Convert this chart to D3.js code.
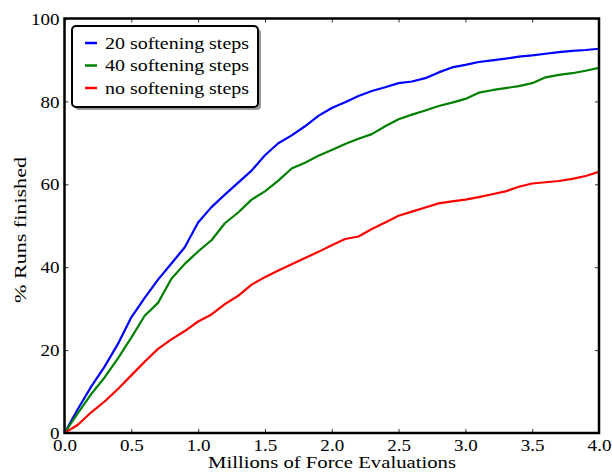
<!DOCTYPE html>
<html><head><meta charset="utf-8">
<script src="https://cdn.jsdelivr.net/npm/d3@7"></script>
<style>body{margin:0;background:#fff}svg{display:block}</style>
</head><body>
<svg id="c" width="612" height="472"></svg>
<script>
const xValues = d3.range(0, 41).map(i => i / 10);
const soft20 = [0,5.8,11.2,16.0,21.5,27.9,32.6,37.0,40.9,44.8,50.8,54.5,57.5,60.4,63.3,67.0,69.9,71.8,74.0,76.5,78.4,79.8,81.3,82.5,83.4,84.4,84.8,85.6,87.0,88.2,88.8,89.5,89.9,90.3,90.8,91.1,91.5,91.9,92.2,92.4,92.7];
const soft40 = [0,4.8,9.4,13.4,18.0,23.0,28.3,31.4,37.2,40.8,43.8,46.5,50.6,53.2,56.3,58.3,60.9,63.8,65.2,66.9,68.3,69.7,71.0,72.1,74.0,75.7,76.8,77.8,78.9,79.7,80.6,82.1,82.7,83.2,83.7,84.4,85.8,86.4,86.8,87.4,88.1];
const softNone = [0,2.0,5.0,7.6,10.6,13.9,17.2,20.3,22.6,24.6,26.9,28.6,31.1,33.1,35.8,37.6,39.2,40.7,42.2,43.7,45.3,46.8,47.4,49.2,50.8,52.4,53.4,54.4,55.4,55.9,56.3,56.9,57.6,58.3,59.4,60.2,60.5,60.8,61.3,62.0,63.0];
const seriesNames = ["20 softening steps","40 softening steps","no softening steps"];
const seriesColors = ["#0000ff","#008000","#ff0000"];
const xTicks = [0,0.5,1,1.5,2,2.5,3,3.5,4];
const yTicks = [0,20,40,60,80,100];
const xTitle = "Millions of Force Evaluations";
const yTitle = "% Runs finished";

const FONT = "Liberation Serif";
const FS = 17;
const L = 64.5, R = 599, T = 18.5, B = 433;
const svg = d3.select("#c");
const x = d3.scaleLinear().domain([0,4]).range([L,R]);
const y = d3.scaleLinear().domain([0,100]).range([B,T]);

const allSeries = [soft20, soft40, softNone];
const plot = svg.append("g");
svg.append("clipPath").attr("id","clp").append("rect")
  .attr("x",L).attr("y",T).attr("width",R-L).attr("height",B-T);
const line = d3.line().x((d,i)=>x(xValues[i])).y(d=>y(d));
allSeries.forEach((s,k)=>{
  plot.append("path").datum(s).attr("d",line).attr("fill","none")
    .attr("stroke",seriesColors[k]).attr("stroke-width",2.2)
    .attr("stroke-linejoin","round").attr("clip-path","url(#clp)");
});

const tf = d3.format(".1f");
const axB = svg.append("g").attr("transform",`translate(0,${B})`)
  .call(d3.axisBottom(x).tickValues(xTicks).tickSizeInner(-4).tickSizeOuter(0).tickPadding(7).tickFormat(tf));
const axT = svg.append("g").attr("transform",`translate(0,${T})`)
  .call(d3.axisTop(x).tickValues(xTicks).tickSizeInner(-4).tickSizeOuter(0).tickFormat(""));
const axL = svg.append("g").attr("transform",`translate(${L},0)`)
  .call(d3.axisLeft(y).tickValues(yTicks).tickSizeInner(-4).tickSizeOuter(0).tickPadding(5).tickFormat(d3.format("d")));
const axR = svg.append("g").attr("transform",`translate(${R},0)`)
  .call(d3.axisRight(y).tickValues(yTicks).tickSizeInner(-4).tickSizeOuter(0).tickFormat(""));
[axB,axT,axL,axR].forEach(a=>{
  a.attr("font-family",FONT).attr("font-size",FS);
  a.select(".domain").remove();
  a.selectAll(".tick line").attr("stroke","#333").attr("stroke-width",1);
  a.selectAll("text").attr("font-family",FONT).attr("font-size",FS).attr("fill","#000")
    .attr("transform","scale(1.12,1)");
});
axB.selectAll("text").attr("dy","0.62em");
axL.selectAll("text").attr("dy","0.33em").attr("x",-5/1.12);

svg.append("rect").attr("x",L).attr("y",T).attr("width",R-L).attr("height",B-T)
  .attr("fill","none").attr("stroke","#000").attr("stroke-width",2.5);

svg.append("text").attr("x",332).attr("y",468).attr("text-anchor","middle")
  .attr("font-family",FONT).attr("font-size",FS)
  .attr("textLength",248).attr("lengthAdjust","spacingAndGlyphs").text(xTitle);
svg.append("text").attr("transform",`translate(26,230) rotate(-90)`).attr("text-anchor","middle")
  .attr("font-family",FONT).attr("font-size",FS)
  .attr("textLength",146).attr("lengthAdjust","spacingAndGlyphs").text(yTitle);

const lg = svg.append("g");
lg.append("rect").attr("x",75).attr("y",29).attr("width",186).attr("height",81).attr("rx",4)
  .attr("fill","#999");
lg.append("rect").attr("x",72).attr("y",26).attr("width",186).attr("height",81).attr("rx",4)
  .attr("fill","#fff").attr("stroke","#000").attr("stroke-width",2);
seriesNames.forEach((n,k)=>{
  const yy = 43 + k*22.5;
  lg.append("line").attr("x1",85).attr("x2",97).attr("y1",yy).attr("y2",yy)
    .attr("stroke",seriesColors[k]).attr("stroke-width",2.5);
  lg.append("text").attr("x",105).attr("y",yy+5.5).attr("font-family",FONT).attr("font-size",FS)
    .attr("textLength",144).attr("lengthAdjust","spacingAndGlyphs").text(n);
});
</script>
</body></html>
